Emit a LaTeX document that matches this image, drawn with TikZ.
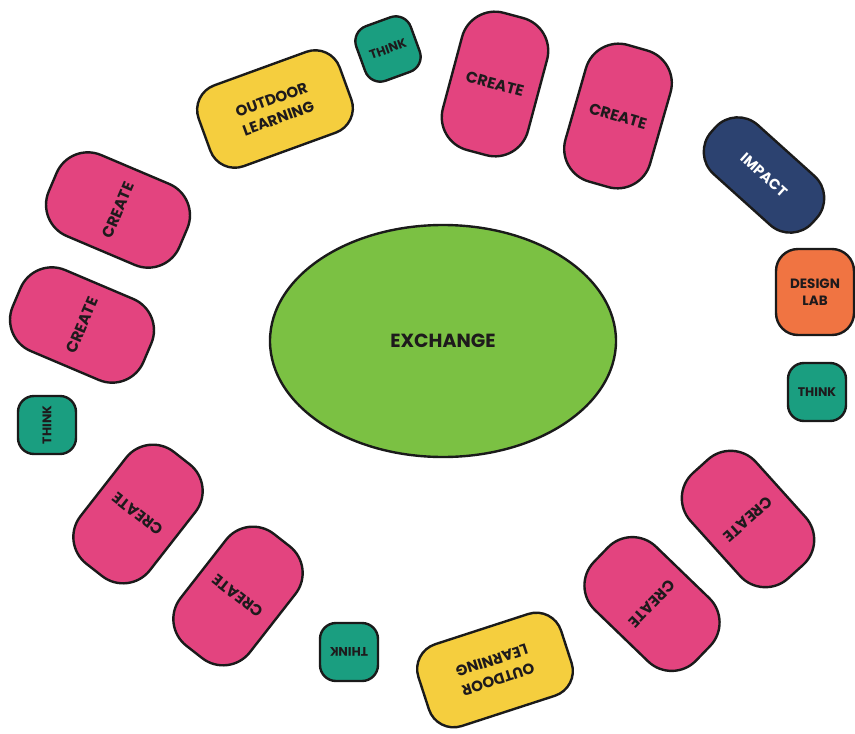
\documentclass[tikz,border=0pt]{standalone}
\usepackage{fontspec}
\setmainfont{Poppins}
\usetikzlibrary{shapes.geometric}
\definecolor{cpink}{HTML}{E3447F}
\definecolor{cyellow}{HTML}{F5CE3E}
\definecolor{cteal}{HTML}{1A9E80}
\definecolor{cnavy}{HTML}{2C4270}
\definecolor{corange}{HTML}{F07442}
\definecolor{cgreen}{HTML}{7BC143}
\definecolor{outl}{HTML}{1A1A1A}
\definecolor{txt}{HTML}{1E1A1C}
\begin{document}
\begin{tikzpicture}[x=1pt,y=-1pt,
  base/.style={draw=outl,line width=2.4pt,inner sep=0pt,align=center,text=txt},
  createbox/.style={base,fill=cpink,minimum width=88pt,minimum height=142pt,rounded corners=34pt,font=\bfseries\fontsize{15.5}{17}\selectfont},
  outdoor/.style={base,fill=cyellow,minimum width=150pt,minimum height=86pt,rounded corners=26pt,font=\bfseries\fontsize{15}{20}\selectfont},
  thinkbox/.style={base,fill=cteal,minimum width=58pt,minimum height=58pt,rounded corners=16pt,font=\bfseries\fontsize{12.5}{14}\selectfont},
  impactbox/.style={base,fill=cnavy,minimum width=136pt,minimum height=66pt,rounded corners=30pt,text=white,font=\bfseries\fontsize{14.5}{16}\selectfont},
  designbox/.style={base,fill=corange,minimum width=78pt,minimum height=86pt,rounded corners=22pt,font=\bfseries\fontsize{13.5}{17}\selectfont},
  exch/.style={base,ellipse,fill=cgreen,minimum width=346pt,minimum height=232pt,font=\bfseries\fontsize{19}{22}\selectfont}
]
\useasboundingbox (0,0) rectangle (855,734);
\node[exch] (ex) at (443,341) {EXCHANGE};
\node[outdoor,rotate=20] (ol1) at (275,109) {OUTDOOR\\LEARNING};
\node[thinkbox,rotate=20] (th1) at (388,49) {THINK};
\node[createbox,rotate=-15] (c1) at (495,84) {CREATE};
\node[createbox,rotate=-16] (c2) at (618,116) {CREATE};
\node[impactbox,rotate=-42] (im) at (764,175) {IMPACT};
\node[designbox] (dl) at (815,292) {DESIGN\\LAB};
\node[thinkbox] (th2) at (817,392) {THINK};
\node[createbox,rotate=-138] (c3) at (748,519) {CREATE};
\node[createbox,rotate=-134] (c4) at (652,604) {CREATE};
\node[outdoor,rotate=198] (ol2) at (495,670) {OUTDOOR\\LEARNING};
\node[thinkbox,rotate=180] (th3) at (349,652) {THINK};
\node[createbox,rotate=142] (c5) at (238,596) {CREATE};
\node[createbox,rotate=142] (c6) at (138,514) {CREATE};
\node[thinkbox,rotate=90] (th4) at (47,425) {THINK};
\node[createbox,rotate=67] (c7) at (82,325) {CREATE};
\node[createbox,rotate=67] (c8) at (118,210) {CREATE};
\end{tikzpicture}
\end{document}
